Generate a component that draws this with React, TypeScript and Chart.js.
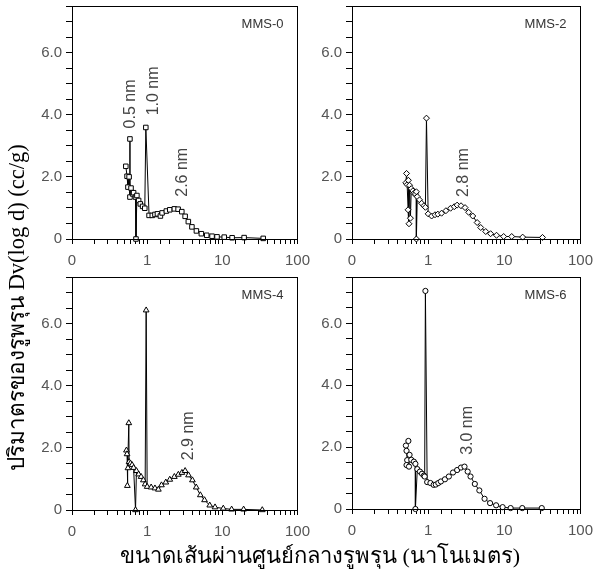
import React, { useEffect, useRef } from 'react';
import { Chart, registerables } from 'chart.js';

Chart.register(...registerables);

// ---------- data ----------
const xTickValues = [0.1, 1, 10, 100];
const xTickLabels = ['0', '1', '10', '100'];
const yTickValues = [0, 2, 4, 6];
const yTickLabels = ['0', '2.0', '4.0', '6.0'];

const mms0D = [0.52, 0.54, 0.555, 0.575, 0.59, 0.59, 0.61, 0.64, 0.66, 0.70, 0.71, 0.73, 0.77, 0.81, 0.87, 0.93, 0.96, 1.06, 1.17, 1.27, 1.37, 1.50, 1.58, 1.80, 2.0, 2.3, 2.58, 2.89, 3.20, 3.53, 3.94, 4.52, 5.26, 6.2, 7.3, 8.5, 10.6, 13.5, 19.5, 35];
const mms0V = [2.34, 2.02, 1.67, 2.0, 3.22, 1.35, 1.64, 1.45, 1.49, 1.35, 0, 1.40, 1.24, 1.13, 1.05, 0.99, 3.59, 0.76, 0.76, 0.79, 0.81, 0.74, 0.84, 0.90, 0.94, 0.97, 0.96, 0.88, 0.73, 0.56, 0.39, 0.26, 0.17, 0.12, 0.09, 0.07, 0.06, 0.04, 0.045, 0.02];

const mms2D = [0.51, 0.52, 0.53, 0.545, 0.55, 0.56, 0.57, 0.585, 0.60, 0.63, 0.65, 0.68, 0.70, 0.70, 0.72, 0.77, 0.82, 0.88, 0.92, 0.95, 1.0, 1.11, 1.23, 1.34, 1.5, 1.71, 1.97, 2.2, 2.4, 2.7, 3.05, 3.4, 3.85, 4.4, 4.9, 5.7, 6.6, 7.9, 9.8, 12.5, 17.4, 31.7];
const mms2V = [1.81, 2.11, 1.75, 0.94, 1.89, 0.49, 1.73, 0.67, 1.62, 1.55, 1.47, 1.45, 1.52, 0, 1.36, 1.26, 1.15, 1.07, 1.02, 3.89, 0.81, 0.74, 0.78, 0.80, 0.83, 0.91, 0.99, 1.04, 1.09, 1.07, 1.01, 0.86, 0.74, 0.53, 0.37, 0.24, 0.17, 0.12, 0.08, 0.08, 0.06, 0.05];

const mms4D = [0.53, 0.54, 0.545, 0.555, 0.57, 0.575, 0.60, 0.63, 0.66, 0.70, 0.72, 0.77, 0.83, 0.89, 0.94, 0.97, 1.0, 1.13, 1.27, 1.41, 1.55, 1.77, 2.0, 2.3, 2.6, 2.9, 3.2, 3.55, 4.0, 4.5, 5.1, 5.8, 6.8, 8.0, 10.3, 13.3, 19.2, 34];
const mms4V = [1.92, 1.80, 0.78, 1.35, 2.80, 1.55, 1.50, 1.45, 1.36, 0, 1.26, 1.15, 1.07, 0.96, 0.83, 6.43, 0.75, 0.73, 0.70, 0.66, 0.80, 0.89, 0.98, 1.07, 1.14, 1.20, 1.26, 1.12, 0.96, 0.73, 0.48, 0.32, 0.15, 0.09, 0.05, 0.02, 0.02, 0.0];

const mms6D = [0.51, 0.55, 0.52, 0.53, 0.52, 0.56, 0.57, 0.60, 0.65, 0.68, 0.68, 0.72, 0.78, 0.83, 0.88, 0.90, 0.92, 0.97, 1.07, 1.18, 1.26, 1.36, 1.47, 1.66, 1.87, 2.12, 2.4, 2.7, 3.0, 3.3, 3.6, 4.1, 4.7, 5.5, 6.5, 7.8, 9.5, 12.1, 17.2, 31];
const mms6V = [2.05, 2.20, 1.88, 1.58, 1.42, 1.37, 1.75, 1.59, 1.53, 1.46, 0, 1.29, 1.21, 1.14, 1.08, 1.05, 7.05, 0.87, 0.84, 0.78, 0.79, 0.84, 0.89, 0.96, 1.05, 1.18, 1.26, 1.34, 1.37, 1.21, 1.05, 0.81, 0.60, 0.33, 0.19, 0.12, 0.06, 0.03, 0.03, 0.03];

const panelNames = ['MMS-0', 'MMS-2', 'MMS-4', 'MMS-6'];

const ann0Text = ['0.5 nm', '1.0 nm', '2.6 nm'];
const ann0X = [0.607, 1.21, 2.98];
const ann0Y = [3.56, 3.98, 1.36];
const ann2Text = ['2.8 nm'];
const ann2X = [2.9];
const ann2Y = [1.35];
const ann4Text = ['2.9 nm'];
const ann4X = [3.57];
const ann4Y = [1.6];
const ann6Text = ['3.0 nm'];
const ann6X = [3.27];
const ann6Y = [1.75];

const xTitle = 'ขนาดเส้นผ่านศูนย์กลางรูพรุน (นาโนเมตร)';
const yTitle = 'ปริมาตรของรูพรุน Dv(log d) (cc/g)';

// ---------- layout ----------
const PAD_L = 60;
const PAD_T = 12;
const PAD_R = 16;
const PAD_B = 40;

const TICK_FONT = { family: '"Liberation Sans", Arial, sans-serif', size: 15 };
const TICK_COLOR = '#555';

type PanelProps = {
  L: number; T: number; R: number; B: number;
  xs: number[]; ys: number[];
  pointStyle: string; radius: number;
  name: string;
  annText: string[]; annX: number[]; annY: number[];
};

function findLabel(v: number, vals: number[], labels: string[]) {
  for (let i = 0; i < vals.length; i++) {
    if (Math.abs(v - vals[i]) < 1e-9 * Math.max(1, Math.abs(vals[i])) + 1e-9) return labels[i];
  }
  return '';
}

function Panel(p: PanelProps) {
  const ref = useRef<HTMLCanvasElement | null>(null);
  const w = p.R - p.L + PAD_L + PAD_R;
  const h = p.B - p.T + PAD_T + PAD_B;

  useEffect(() => {
    if (!ref.current) return;
    const pts = p.xs.map((x, i) => ({ x, y: p.ys[i] }));
    const deco = {
      id: 'deco',
      afterDraw(chart: any) {
        const ctx = chart.ctx;
        const a = chart.chartArea;
        const xs = chart.scales.x;
        const ys = chart.scales.y;
        ctx.save();
        ctx.strokeStyle = '#000';
        ctx.lineWidth = 1;
        ctx.strokeRect(Math.round(a.left) + 0.5, Math.round(a.top) + 0.5, Math.round(a.right - a.left), Math.round(a.bottom - a.top));
        ctx.fillStyle = '#333';
        ctx.font = '13px "Liberation Sans", Arial, sans-serif';
        ctx.textAlign = 'right';
        ctx.textBaseline = 'alphabetic';
        ctx.fillText(p.name, a.right - 14, a.top + 22);
        ctx.font = '16px "Liberation Sans", Arial, sans-serif';
        ctx.fillStyle = '#444';
        for (let i = 0; i < p.annText.length; i++) {
          const px = xs.getPixelForValue(p.annX[i]);
          const py = ys.getPixelForValue(p.annY[i]);
          ctx.save();
          ctx.translate(px, py);
          ctx.rotate(-Math.PI / 2);
          ctx.textAlign = 'left';
          ctx.textBaseline = 'middle';
          ctx.fillText(p.annText[i], 0, 0);
          ctx.restore();
        }
        ctx.restore();
      },
    };
    const chart = new Chart(ref.current, {
      type: 'scatter',
      data: {
        datasets: [
          {
            data: pts,
            showLine: true,
            borderColor: '#000',
            borderWidth: 1,
            pointStyle: p.pointStyle as any,
            pointRadius: p.radius,
            pointBackgroundColor: '#fff',
            pointBorderColor: '#000',
            pointBorderWidth: 1,
            clip: false as any,
          },
        ],
      },
      options: {
        animation: false,
        responsive: false,
        maintainAspectRatio: false,
        layout: { padding: { left: 0, top: PAD_T, right: PAD_R, bottom: 0 } },
        plugins: { legend: { display: false }, tooltip: { enabled: false } },
        scales: {
          x: {
            type: 'logarithmic',
            min: 0.1,
            max: 100,
            afterFit: (s: any) => { s.height = PAD_B; },
            border: { display: true, color: '#000', width: 1 },
            grid: { display: true, drawOnChartArea: false, drawTicks: true, tickLength: 5, color: '#000', lineWidth: 1 },
            ticks: {
              autoSkip: false,
              maxRotation: 0,
              minRotation: 0,
              padding: 8,
              color: TICK_COLOR,
              font: TICK_FONT,
              callback: (v: any) => findLabel(Number(v), xTickValues, xTickLabels),
            },
          },
          y: {
            type: 'linear',
            min: 0,
            max: 7.5,
            afterFit: (s: any) => { s.width = PAD_L; },
            border: { display: true, color: '#000', width: 1 },
            grid: { display: true, drawOnChartArea: false, drawTicks: true, tickLength: 6, color: '#000', lineWidth: 1 },
            ticks: {
              stepSize: 0.5,
              autoSkip: false,
              padding: 4,
              color: TICK_COLOR,
              font: TICK_FONT,
              callback: (v: any) => findLabel(Number(v), yTickValues, yTickLabels),
            },
          },
        },
      },
      plugins: [deco],
    } as any);
    return () => chart.destroy();
  }, []);

  return (
    <canvas
      ref={ref}
      width={w}
      height={h}
      style={{ position: 'absolute', left: p.L - PAD_L, top: p.T - PAD_T, width: w, height: h }}
    />
  );
}

export default function App() {
  return (
    <div style={{ position: 'absolute', left: 0, top: 0, width: 596, height: 572, background: '#fff', overflow: 'hidden' }}>
      <Panel L={72} T={5} R={302} B={239} xs={mms0D} ys={mms0V} pointStyle="rect" radius={3.2} name={panelNames[0]} annText={ann0Text} annX={ann0X} annY={ann0Y} />
      <Panel L={352} T={5} R={585} B={239} xs={mms2D} ys={mms2V} pointStyle="rectRot" radius={3} name={panelNames[1]} annText={ann2Text} annX={ann2X} annY={ann2Y} />
      <Panel L={72} T={276} R={302} B={510} xs={mms4D} ys={mms4V} pointStyle="triangle" radius={3.3} name={panelNames[2]} annText={ann4Text} annX={ann4X} annY={ann4Y} />
      <Panel L={352} T={276} R={585} B={509} xs={mms6D} ys={mms6V} pointStyle="circle" radius={2.6} name={panelNames[3]} annText={ann6Text} annX={ann6X} annY={ann6Y} />
      <div
        style={{
          position: 'absolute', left: 4, top: 471, transformOrigin: '0 0', transform: 'rotate(-90deg)',
          whiteSpace: 'nowrap', fontFamily: '"Liberation Serif", serif', fontSize: 22.5, fontWeight: 400, color: '#000', lineHeight: '26px',
        }}
      >
        {yTitle}
      </div>
      <div
        style={{
          position: 'absolute', left: 320, top: 556, transform: 'translate(-50%, -50%)',
          whiteSpace: 'nowrap', fontFamily: '"Liberation Serif", serif', fontSize: 22, fontWeight: 400, color: '#000', lineHeight: 1,
        }}
      >
        {xTitle}
      </div>
    </div>
  );
}
